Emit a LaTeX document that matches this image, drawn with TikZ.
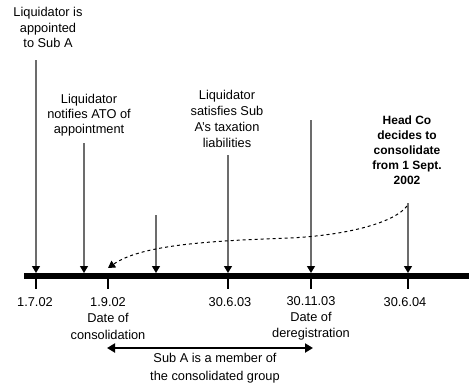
\documentclass[tikz,border=0pt]{standalone}
\usepackage{fontspec}
\setmainfont{Liberation Sans}
\usetikzlibrary{arrows.meta}
\tikzset{
  lbl/.style={align=center, font=\fontsize{12.8}{15.5}\selectfont, inner sep=0pt},
  boldlbl/.style={align=center, inner sep=0pt, font=\fontsize{12}{15}\selectfont\bfseries},
  event/.style={draw=gray!85!black, line width=1.3pt, -{Triangle[width=8pt,length=7pt,fill=black,color=black]}},
  tick/.style={line width=2pt},
}
\begin{document}
\begin{tikzpicture}[x=1pt,y=-1pt]
\useasboundingbox (0,0) rectangle (471,386);
% timeline
\coordinate (L) at (24,276);
\coordinate (R) at (469,276);
\draw[line width=6pt] (L) -- (R);
% points on line
\coordinate (t1) at (36,273);
\coordinate (t2) at (84,273);
\coordinate (t4) at (156,273);
\coordinate (t5) at (228,273);
\coordinate (t6) at (311,273);
\coordinate (t7) at (408,273);
% ticks
\foreach \x in {36,108,228,311,408}{
  \draw[tick] (\x,276) -- (\x,289);
}
% event arrows
\coordinate (s1) at (36,60);
\coordinate (s2) at (84,143);
\coordinate (s4) at (156,215);
\coordinate (s5) at (228,155);
\coordinate (s6) at (311,120);
\coordinate (s7) at (408,203);
\draw[event] (s1) -- (t1);
\draw[event] (s2) -- (t2);
\draw[event] (s4) -- (t4);
\draw[event] (s5) -- (t5);
\draw[event] (s6) -- (t6);
\draw[event] (s7) -- (t7);
% dashed curve
\coordinate (c0) at (407,206);
\coordinate (cm) at (290,238);
\coordinate (c1) at (108,268);
\draw[line width=1pt, dash pattern=on 3pt off 3pt, -{Triangle[width=8pt,length=7pt]}]
  (c0) .. controls (395,222) and (350,235) .. (cm)
       .. controls (200,241) and (140,246) .. (c1);
% labels above
\node[lbl] (n1) at (48,27.5) {Liquidator is\\appointed\\to Sub A};
\node[lbl, font=\fontsize{12.8}{15}\selectfont] (n2) at (89,115) {Liquidator\\notifies ATO of\\appointment};
\node[lbl, font=\fontsize{12.8}{16}\selectfont] (n3) at (227,119) {Liquidator\\satisfies Sub\\A's taxation\\liabilities};
\node[boldlbl] (n4) at (407,150) {Head Co\\decides to\\consolidate\\from 1 Sept.\\2002};
% dates
\node[lbl] (d1) at (35,302) {1.7.02};
\node[lbl, font=\fontsize{12.8}{16.5}\selectfont] (d3) at (108,318.5) {1.9.02\\Date of\\consolidation};
\node[lbl] (d5) at (230,302) {30.6.03};
\node[lbl, font=\fontsize{12.8}{16}\selectfont] (d6) at (311,318) {30.11.03\\Date of\\deregistration};
\node[lbl] (d7) at (405,302) {30.6.04};
% membership arrow
\coordinate (m1) at (107,348);
\coordinate (m2) at (313,348);
\draw[line width=2.5pt, {Triangle[width=9pt,length=8pt]}-{Triangle[width=9pt,length=8pt]}] (m1) -- (m2);
\node[lbl, font=\fontsize{12.8}{18}\selectfont] (m) at (215,368) {Sub A is a member of\\the consolidated group};
\end{tikzpicture}
\end{document}
